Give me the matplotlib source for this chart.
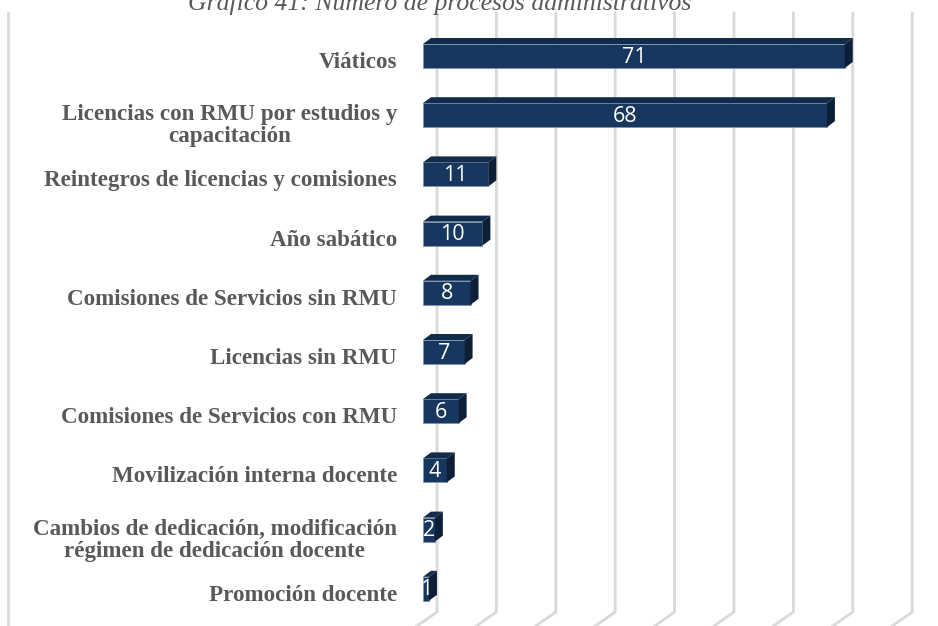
import matplotlib
matplotlib.use("Agg")
import matplotlib.pyplot as plt
from matplotlib.patches import Polygon

categorias = [
    "Viáticos",
    "Licencias con RMU por estudios y\ncapacitación",
    "Reintegros de licencias y comisiones",
    "Año sabático",
    "Comisiones de Servicios sin RMU",
    "Licencias sin RMU",
    "Comisiones de Servicios con RMU",
    "Movilización interna docente",
    "Cambios de dedicación, modificación\nrégimen de dedicación docente",
    "Promoción docente",
]
valores = [71, 68, 11, 10, 8, 7, 6, 4, 2, 1]
grid_vals = [0, 10, 20, 30, 40, 50, 60, 70, 80]
titulo = "Gráfico 41: Número de procesos administrativos"

# colores
c_front = "#17375e"
c_top = "#112b4a"
c_side = "#0d1f37"
c_grid = "#d9d9d9"
c_text = "#595959"

W, H = 938, 626
px_x = 5.94   # pixeles por unidad
px_y = 59.2   # pixeles por categoria

fig = plt.figure(figsize=(W / 100, H / 100), dpi=100)
ax = fig.add_axes([0, 0, 1, 1])
ax.set_xlim(-423 / px_x, (W - 423) / px_x)
ax.set_ylim((H - 56) / px_y, -56 / px_y)
ax.axis("off")

# profundidad 3D
dx = 8 / px_x
dy = 6 / px_y
back = 14 / px_x
y_top = (13 - 56) / px_y
y_bend = (612 - 56) / px_y
y_end = y_bend + 30 / px_y
x_floor = -43 / px_x

# lineas de cuadricula (pared del fondo + piso)
for g in grid_vals:
    xg = g + back
    ax.plot([xg, xg, xg + x_floor], [y_top, y_bend, y_end],
            color=c_grid, lw=2, zorder=1, solid_joinstyle="miter")
# borde izquierdo del grafico
ax.plot([-415 / px_x, -415 / px_x], [y_top, y_end + 1], color=c_grid, lw=2, zorder=1)

h = 24 / px_y
ys = list(range(len(valores)))
ax.barh(ys, valores, height=h, left=0, color=c_front, edgecolor="#7f93ad",
        linewidth=0.6, zorder=3)

for y, v in zip(ys, valores):
    t, b = y - h / 2, y + h / 2
    ax.add_patch(Polygon([(0, t), (dx, t - dy), (v + dx, t - dy), (v, t)],
                         closed=True, facecolor=c_top, edgecolor="none", zorder=3))
    ax.add_patch(Polygon([(v, t), (v + dx, t - dy), (v + dx, b - dy), (v, b)],
                         closed=True, facecolor=c_side, edgecolor="none", zorder=3))
    ax.text(v / 2, y + 0.02, str(v), ha="center", va="center", color="white",
            fontsize=15.5, family=["Open Sans", "DejaVu Sans"], zorder=4)

for y, lab in zip(ys, categorias):
    n = lab.count("\n")
    ax.text(-26 / px_x, y + 0.11 + 0.07 * n, lab, ha="right", va="center",
            multialignment="center", color=c_text, fontsize=16.6, fontweight="bold",
            family="Liberation Serif", linespacing=1.05)

fig.text(440 / W, 1 - 10 / H, titulo, ha="center", va="baseline", color=c_text,
         fontsize=18.5, style="italic", family="Liberation Serif")

fig.savefig("out.png", dpi=100, facecolor="white")
